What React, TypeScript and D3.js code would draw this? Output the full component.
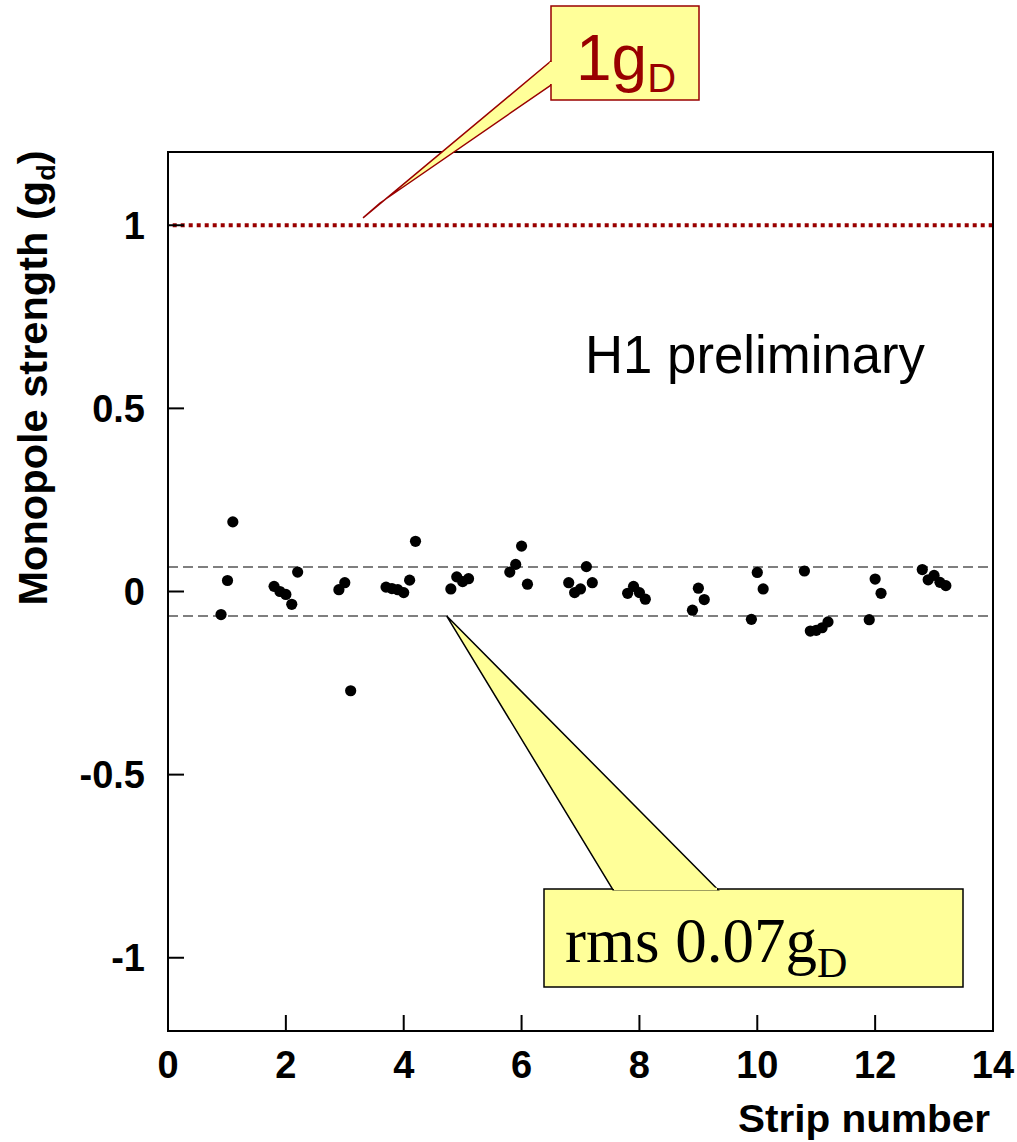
import React from "react";
import * as d3 from "d3";

const stripX = [0.9, 1.01, 1.1, 1.8, 1.9, 2.0, 2.1, 2.2, 2.9, 3.0, 3.1, 3.7, 3.8, 3.9, 4.0, 4.1, 4.2, 4.8, 4.9, 5.0, 5.1, 5.8, 5.9, 6.0, 6.1, 6.8, 6.9, 7.0, 7.1, 7.2, 7.8, 7.9, 8.0, 8.1, 8.9, 9.0, 9.1, 9.9, 10.0, 10.1, 10.8, 10.9, 11.0, 11.1, 11.2, 11.9, 12.0, 12.1, 12.8, 12.9, 13.0, 13.1, 13.2];
const strength = [-0.063, 0.03, 0.19, 0.014, 0.0, -0.008, -0.035, 0.053, 0.005, 0.024, -0.271, 0.012, 0.008, 0.005, -0.003, 0.031, 0.137, 0.007, 0.04, 0.027, 0.035, 0.053, 0.074, 0.124, 0.02, 0.024, -0.003, 0.007, 0.068, 0.024, -0.005, 0.014, -0.003, -0.021, -0.051, 0.009, -0.022, -0.076, 0.052, 0.007, 0.056, -0.108, -0.106, -0.099, -0.083, -0.077, 0.034, -0.005, 0.06, 0.032, 0.044, 0.025, 0.016];
const xTicks = [0, 2, 4, 6, 8, 10, 12, 14];
const yTicks = [1, 0.5, 0, -0.5, -1];
const yTickLabels = ["1", "0.5", "0", "-0.5", "-1"];
const rmsValue = 0.067;
const diracValue = 1;

const W = 1017, H = 1142;
const L = 168, R = 993, T = 152, B = 1031;

export default function App() {
  const x = d3.scaleLinear().domain([0, 14]).range([L, R]);
  const y = d3.scaleLinear().domain([-1.2, 1.2]).range([B, T]);
  const sans = "Arial, 'Liberation Sans', Helvetica, sans-serif";
  const serif = "'Times New Roman', 'Liberation Serif', Times, serif";
  const red = "#990000";
  const tip1 = [x(3.31), y(1.02)];
  const tip2 = [x(4.73), y(-rmsValue)];
  return (
    <svg width={W} height={H} style={{ position: "absolute", left: 0, top: 0, background: "#fff" }}>
      {[rmsValue, -rmsValue].map((v, i) => (
        <line key={i} x1={L} x2={R} y1={y(v)} y2={y(v)} stroke="#555" strokeWidth={1.5} strokeDasharray="10,5" />
      ))}
      <line x1={x(0.08)} x2={R} y1={y(diracValue)} y2={y(diracValue)} stroke={red} strokeWidth={4} strokeDasharray="4,4" />
      {stripX.map((sx, i) => (
        <circle key={i} cx={x(sx)} cy={y(strength[i])} r={5.6} fill="#000" />
      ))}
      <rect x={L} y={T} width={R - L} height={B - T} fill="none" stroke="#000" strokeWidth={2} />
      {yTicks.map((v, i) => (
        <g key={i}>
          <line x1={L} x2={L + 16} y1={y(v)} y2={y(v)} stroke="#000" strokeWidth={2} />
          <text x={145} y={y(v)} dy="0.36em" textAnchor="end" fontFamily={sans} fontWeight="bold" fontSize={38}>
            {yTickLabels[i]}
          </text>
        </g>
      ))}
      {xTicks.map((v, i) => (
        <g key={i}>
          <line x1={x(v)} x2={x(v)} y1={B} y2={B - 16} stroke="#000" strokeWidth={2} />
          <text x={x(v)} y={1078} textAnchor="middle" fontFamily={sans} fontWeight="bold" fontSize={38}>
            {v}
          </text>
        </g>
      ))}
      <text x={990} y={1132} textAnchor="end" fontFamily={sans} fontWeight="bold" fontSize={38} textLength={252} lengthAdjust="spacingAndGlyphs">
        Strip number
      </text>
      <text transform="translate(47,378) rotate(-90)" textAnchor="middle" fontFamily={sans} fontWeight="bold" fontSize={40} textLength={455} lengthAdjust="spacingAndGlyphs">
        Monopole strength (g<tspan fontSize={26} dy={8}>d</tspan><tspan dy={-8}>)</tspan>
      </text>
      <text x={585} y={373} fontFamily={sans} fontSize={54} textLength={340} lengthAdjust="spacingAndGlyphs">H1 preliminary</text>
      <polygon points={`551,61 ${tip1[0]},${tip1[1]} 380,203 551,85`} fill="#FFFF99" stroke={red} strokeWidth={1.5} />
      <rect x={551} y={6} width={148} height={94} fill="#FFFF99" stroke={red} strokeWidth={1.5} />
      <line x1={551} x2={551} y1={62} y2={84} stroke="#FFFF99" strokeWidth={2.5} />
      <text x={576} y={80} fontFamily={sans} fontSize={64} fill={red}>
        1g<tspan fontSize={40} dy={12}>D</tspan>
      </text>
      <rect x={544} y={889} width={419} height={98} fill="#FFFF99" stroke="#000" strokeWidth={1.5} />
      <polygon points={`613,889.8 ${tip2[0]},${tip2[1]} 718,889.8`} fill="#FFFF99" stroke="#000" strokeWidth={1.5} />
      <line x1={614} x2={717} y1={889} y2={889} stroke="#FFFF99" strokeWidth={2.5} />
      <text x={565} y={962} fontFamily={serif} fontSize={63} fill="#000">
        rms 0.07g<tspan fontSize={42} dy={15}>D</tspan>
      </text>
    </svg>
  );
}
